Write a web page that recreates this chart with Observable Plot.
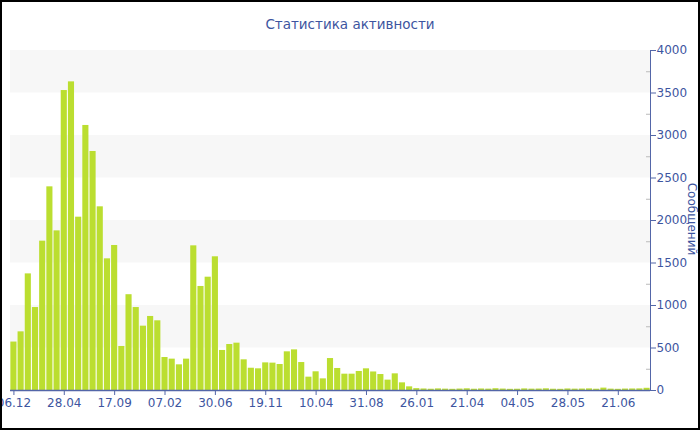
<!DOCTYPE html>
<html>
<head>
<meta charset="utf-8">
<script src="https://cdn.jsdelivr.net/npm/d3@7"></script>
<script src="https://cdn.jsdelivr.net/npm/@observablehq/plot@0.6"></script>
<style>
  html, body { margin: 0; padding: 0; background: #fff; }
  #wrap { position: relative; width: 700px; height: 430px; overflow: hidden; font-family: "DejaVu Sans", Verdana, sans-serif; }
  #title { position: absolute; left: 0; top: 16px; width: 700px; text-align: center; font-size: 13.5px; color: #3d55a0; }
  #chart { position: absolute; left: 0; top: 40px; }
  #ylabel { position: absolute; left: 692px; top: 219px; transform: translate(-50%, -50%) rotate(90deg); font-size: 12px; color: #3d55a0; white-space: nowrap; }
  #border { position: absolute; left: 0; top: 0; width: 700px; height: 430px; box-sizing: border-box; border: 2px solid #000; pointer-events: none; }
</style>
</head>
<body>
<div id="wrap">
  <div id="title">Статистика активности</div>
  <div id="chart"></div>
  <div id="ylabel">Сообщений</div>
  <div id="border"></div>
</div>
<script>
const values = [570,690,1372,976,1757,2396,1878,3529,3631,2039,3118,2812,2161,1549,1706,518,1127,
  976,757,871,820,388,369,302,369,1702,1224,1333,1573,471,541,557,361,262,
  255,325,322,306,455,478,329,157,220,137,376,259,192,192,224,255,218,188,122,196,90,43,22,
  18,15,19,16,14,17,20,15,18,16,21,17,14,15,19,16,17,20,15,14,18,16,17,19,15,28,16,14,17,18,19,26];
const tickLabels = ["06.12","28.04","17.09","07.02","30.06","19.11","10.04","31.08","26.01","21.04","04.05","28.05","21.06"];
const yTicks = [0,500,1000,1500,2000,2500,3000,3500,4000];
const yMinor = [250,750,1250,1750,2250,2750,3250,3750];
const grayBands = [500,1500,2500,3500];

const labelStep = 7;
const cats = d3.range(values.length);
const data = values.map((v, i) => ({i, v}));
const tickIdx = tickLabels.map((_, k) => k * labelStep);
const axisColor = "#5366a8";
const textColor = "#3d55a0";

const chart = Plot.plot({
  width: 700, height: 390,
  marginTop: 10, marginBottom: 40, marginLeft: 10, marginRight: 50,
  style: {fontFamily: "DejaVu Sans, Verdana, sans-serif", fontSize: "12px", background: "transparent", overflow: "visible"},
  x: {type: "band", domain: cats, paddingInner: 0.15, paddingOuter: 0.05, round: false, axis: null},
  y: {domain: [0, 4000], axis: null},
  marks: [
    Plot.rect(grayBands, {y1: d => d, y2: d => d + 500, fill: "#f7f7f7"}),
    Plot.barY(data, {x: "i", y: "v", fill: "#bbde30"}),
    Plot.ruleY(yMinor, {stroke: "#bbbbbb", insetLeft: 636}),
    Plot.ruleY([0], {stroke: axisColor, strokeWidth: 1.3}),
    Plot.frame({anchor: "right", stroke: axisColor, strokeOpacity: 1}),
    Plot.axisX({ticks: tickIdx, tickFormat: d => tickLabels[d / labelStep], tickSize: 5, tickPadding: 3, stroke: axisColor, color: textColor, fontSize: 12, label: null}),
    Plot.axisY({anchor: "right", ticks: yTicks, tickFormat: d => String(d), tickSize: 5, tickPadding: 1, stroke: axisColor, color: textColor, fontSize: 12, textAnchor: "start", label: null})
  ]
});
document.getElementById("chart").appendChild(chart);
</script>
</body>
</html>
